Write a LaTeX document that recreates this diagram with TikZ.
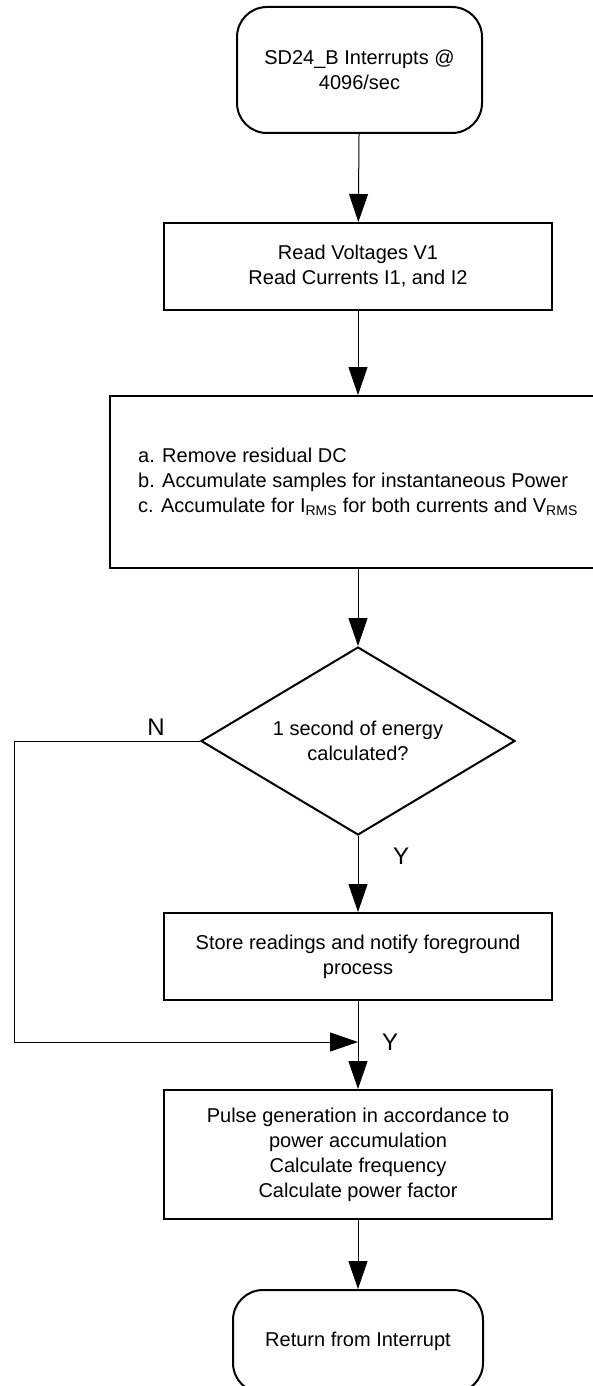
\documentclass[tikz,border=0pt]{standalone}
\usepackage{fontspec}
\setmainfont{Liberation Sans}
\usetikzlibrary{arrows.meta,shapes.geometric}
\begin{document}
\begin{tikzpicture}[x=1pt,y=-1pt,
  every node/.style={font=\fontsize{20}{25}\selectfont, align=center, inner sep=0pt},
  procbox/.style={draw, line width=2pt, rectangle},
  term/.style={draw, line width=2pt, rectangle, rounded corners=30pt},
  decision/.style={draw, line width=2pt, diamond, shape aspect=1.67},
  conn/.style={line width=1pt, -{Triangle[length=28pt,width=19pt]}},
  lbl/.style={font=\fontsize{24}{28}\selectfont}]
\useasboundingbox (0,0) rectangle (593,1386);
\node[term, minimum width=245pt, minimum height=126pt] (t1) at (359.5,70) {SD24\_B Interrupts @\\4096/sec};
\node[procbox, minimum width=388pt, minimum height=87pt] (b2) at (358,266.5) {Read Voltages V1\\Read Currents I1, and I2};
\node[procbox, minimum width=496pt, minimum height=172pt, align=left] (b3) at (358,482) {a. Remove residual DC\\b. Accumulate samples for instantaneous Power\\c. Accumulate for I\textsubscript{RMS} for both currents and V\textsubscript{RMS}};
\node[decision, minimum width=314pt, minimum height=188pt] (d) at (358,741) {1 second of energy\\calculated?};
\node[procbox, minimum width=388pt, minimum height=87pt] (b4) at (358,956.5) {Store readings and notify foreground\\process};
\node[procbox, minimum width=388pt, minimum height=129pt] (b5) at (358,1154.5) {Pulse generation in accordance to\\power accumulation\\Calculate frequency\\Calculate power factor};
\node[term, minimum width=250pt, minimum height=103pt] (t2) at (358,1341.5) {Return from Interrupt};
\coordinate (nl) at (14,741);
\coordinate (m) at (358,1042);
\draw[conn] (t1) -- (b2);
\draw[conn] (b2) -- (b3);
\draw[conn] (b3) -- (d);
\draw[conn] (d) -- (b4);
\draw[conn] (b4) -- (b5);
\draw[conn] (b5) -- (t2);
\draw[conn] (d.west) -- (nl) |- (m);
\node[lbl] (ln) at (156,727) {N};
\node[lbl] (ly1) at (401,856) {Y};
\node[lbl] (ly2) at (390,1042) {Y};
\end{tikzpicture}
\end{document}
